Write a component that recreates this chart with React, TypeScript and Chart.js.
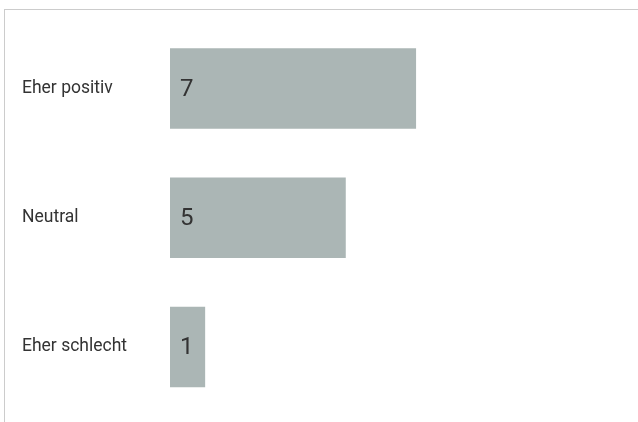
import React, { useEffect, useRef } from "react";
import { Chart, registerables } from "chart.js";

Chart.register(...registerables);

const categories = ["Eher positiv", "Neutral", "Eher schlecht"];
const values = [7, 5, 1];
const axisMax = 13;

const valueLabelPlugin = {
  id: "valueLabels",
  afterDatasetsDraw(chart: any) {
    const { ctx } = chart;
    const meta = chart.getDatasetMeta(0);
    ctx.save();
    ctx.font = "24px Roboto";
    ctx.fillStyle = "#333333";
    ctx.textAlign = "left";
    ctx.textBaseline = "middle";
    meta.data.forEach((bar: any, i: number) => {
      ctx.fillText(String(values[i]), bar.base + 10, bar.y + 1);
    });
    ctx.restore();
  },
};

export default function App() {
  const ref = useRef<HTMLCanvasElement | null>(null);
  useEffect(() => {
    if (!ref.current) return;
    const chart = new Chart(ref.current, {
      type: "bar",
      data: {
        labels: categories,
        datasets: [
          {
            data: values,
            backgroundColor: "#abb6b5",
            borderWidth: 0,
            barPercentage: 0.623,
            categoryPercentage: 1,
          },
        ],
      },
      options: {
        indexAxis: "y",
        animation: false,
        responsive: false,
        maintainAspectRatio: false,
        layout: { padding: { left: 22, top: 24, bottom: 8, right: 11 } },
        plugins: { legend: { display: false }, tooltip: { enabled: false } },
        scales: {
          x: { display: false, min: 0, max: axisMax },
          y: {
            grid: { display: false },
            border: { display: false },
            ticks: {
              crossAlign: "far",
              color: "#333333",
              font: { family: "Roboto", size: 17.5 },
              padding: 0,
            },
            afterFit(axis: any) {
              axis.width = 148;
            },
          },
        },
      },
      plugins: [valueLabelPlugin],
    });
    return () => chart.destroy();
  }, []);
  return (
    <div style={{ position: "fixed", left: 0, top: 0, width: 638, height: 422, background: "#fff" }}>
      <div
        style={{
          position: "absolute",
          left: 4,
          top: 9,
          width: 634,
          height: 413,
          borderTop: "1px solid #cccccc",
          borderLeft: "1px solid #cccccc",
          boxSizing: "border-box",
        }}
      />
      <canvas ref={ref} width={638} height={422} style={{ position: "absolute", left: 0, top: 0, width: 638, height: 422 }} />
    </div>
  );
}
